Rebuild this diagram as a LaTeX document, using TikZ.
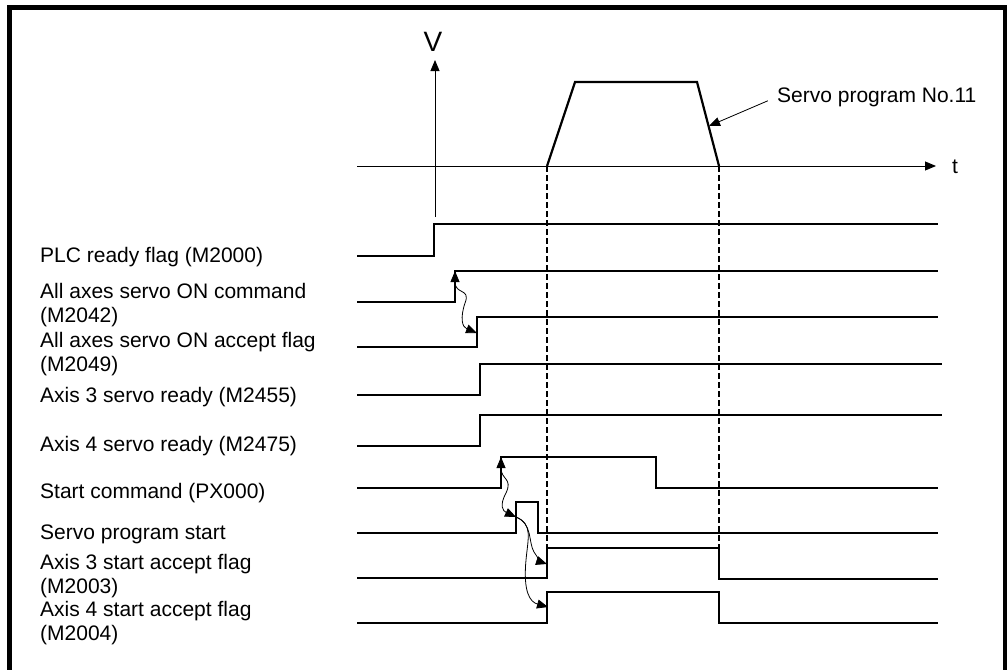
\documentclass[tikz,border=0pt]{standalone}
\usepackage{fontspec}
\setmainfont{Liberation Sans}
\usetikzlibrary{arrows.meta}
\begin{document}
\begin{tikzpicture}[x=1pt,y=-1pt,
  sig/.style={line width=2pt, line join=miter},
  ax/.style={line width=0.9pt},
  lbl/.style={anchor=base west, inner sep=0pt, font=\fontsize{21}{24}\selectfont, align=left},
  txt/.style={inner sep=0pt, font=\fontsize{21}{24}\selectfont},
  tri/.style={-{Triangle[length=11pt,width=9pt]}},
  dtri/.style={{Triangle[length=11pt,width=9pt]}-{Triangle[length=11pt,width=9pt]}},
  wig/.style={line width=0.8pt},
  guide/.style={line width=1.1pt, dash pattern=on 6pt off 3pt}]
\useasboundingbox (0,0) rectangle (1008,669);
% frame
\draw[line width=4.5pt, line join=miter] (9.5,672) -- (9.5,7.5) -- (1005,7.5) -- (1005,672);
% axes
\coordinate (vbot) at (435,217);
\coordinate (vtop) at (435,60);
\draw[ax, tri] (vbot) -- (vtop);
\node[txt, font=\fontsize{28}{30}\selectfont] (V) at (433,42) {V};
\coordinate (tl) at (357,166);
\coordinate (tr) at (936,166);
\draw[ax, tri] (tl) -- (tr);
\node[txt] (t) at (955,167) {t};
% velocity profile
\coordinate (p0) at (547,166);
\coordinate (p1) at (575,82);
\coordinate (p2) at (697,82);
\coordinate (p3) at (719,166);
\draw[line width=2.2pt, line join=miter] (p0) -- (p1) -- (p2) -- (p3);
\node[lbl] (sp) at (777,102) {Servo program No.11};
\coordinate (leadtip) at (709,126);
\draw[wig, tri, shorten <=10pt] (sp.west) -- (leadtip);
% dashed guides
\coordinate (g1b) at (547,548);
\coordinate (g2b) at (719,548);
\draw[guide] (p0) -- (g1b);
\draw[guide] (p3) -- (g2b);
% labels (base = baseline of last line)
\node[lbl] (l1) at (40,262) {PLC ready flag (M2000)};
\node[lbl] (l2) at (40,322) {All axes servo ON command\\(M2042)};
\node[lbl] (l3) at (40,371) {All axes servo ON accept flag\\(M2049)};
\node[lbl] (l4) at (40,402) {Axis 3 servo ready (M2455)};
\node[lbl] (l5) at (40,451) {Axis 4 servo ready (M2475)};
\node[lbl] (l6) at (40,498) {Start command (PX000)};
\node[lbl] (l7) at (40,539) {Servo program start};
\node[lbl] (l8) at (40,593) {Axis 3 start accept flag\\(M2003)};
\node[lbl] (l9) at (40,640) {Axis 4 start accept flag\\(M2004)};
% signals
\draw[sig] (357,256) -- (434,256) -- (434,224) -- (938,224);
\draw[sig] (357,302) -- (455,302) -- (455,271) -- (938,271);
\draw[sig] (357,347) -- (477,347) -- (477,317) -- (938,317);
\draw[sig] (357,395) -- (480,395) -- (480,364) -- (942,364);
\draw[sig] (357,446) -- (480,446) -- (480,415) -- (942,415);
\draw[sig] (357,488) -- (501,488) -- (501,457) -- (656,457) -- (656,488) -- (938,488);
\draw[sig] (357,533) -- (516,533) -- (516,502) -- (538,502) -- (538,533) -- (938,533);
\draw[sig] (357,578) -- (547,578) -- (547,548) -- (719,548) -- (719,579) -- (938,579);
\draw[sig] (357,623) -- (547,623) -- (547,592) -- (719,592) -- (719,623) -- (938,623);
% cause-effect arrows
\coordinate (a1) at (455,271);
\coordinate (a2) at (477,333);
\coordinate (b1) at (501,457);
\coordinate (b2) at (516,517);
\coordinate (c2) at (547,564);
\coordinate (d2) at (548,607);
\draw[wig, dtri] (a1) .. controls (455,295) and (471,288) .. (465,303) .. controls (460,318) and (462,327) .. (a2);
\draw[wig, dtri] (b1) .. controls (501,480) and (513,478) .. (506,493) .. controls (499,506) and (503,511) .. (b2);
\draw[wig, tri] (b2) .. controls (533,524) and (528,542) .. (534,552) .. controls (538,558) and (541,562) .. (c2);
\draw[wig, tri] (b2) .. controls (533,524) and (528,538) .. (526,560) .. controls (523,592) and (530,602) .. (d2);
\end{tikzpicture}
\end{document}
